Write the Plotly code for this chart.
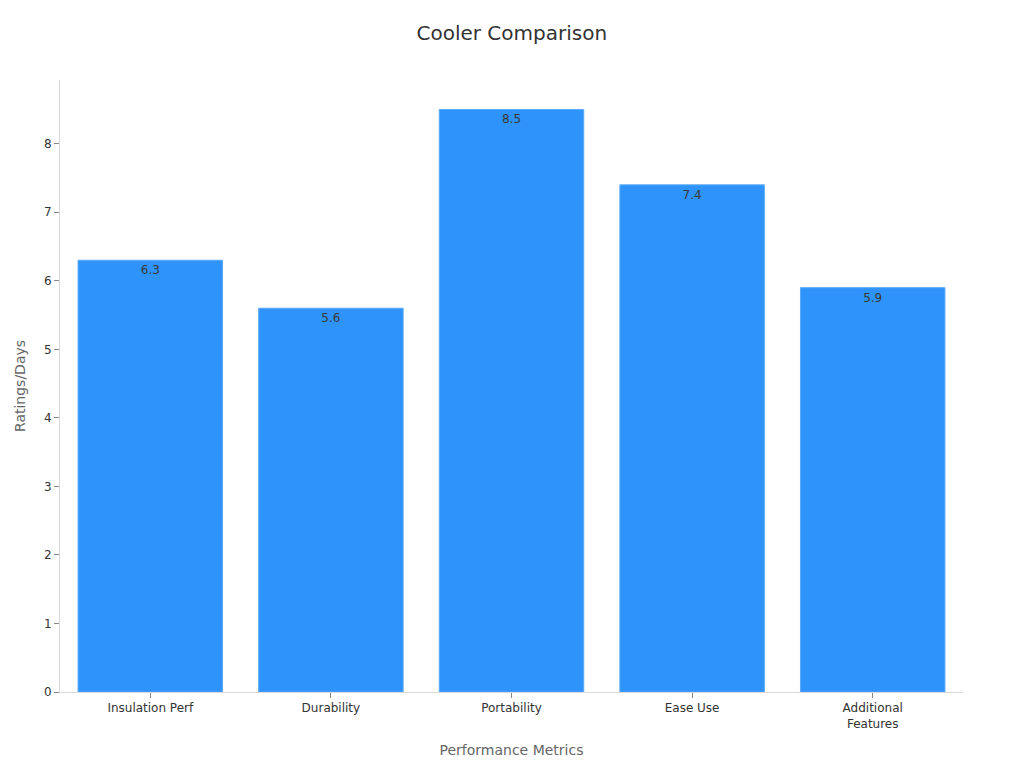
import plotly.graph_objects as go

categories = ["Insulation Perf", "Durability", "Portability", "Ease Use", "Additional<br>Features"]
values = [6.3, 5.6, 8.5, 7.4, 5.9]

fig = go.Figure()
fig.add_trace(go.Bar(
    x=categories,
    y=values,
    text=[f"{v:.1f}" for v in values],
    textposition="inside",
    insidetextanchor="end",
    textfont=dict(color="#3a3a3a", size=12),
    marker=dict(color="#2E93FA", line=dict(color="#5aa9f7", width=1)),
))

fig.update_layout(
    width=1024, height=768,
    font=dict(family="DejaVu Sans", color="#333333"),
    title=dict(text="Cooler Comparison", x=0.492, xanchor="center", y=0.976,
               font=dict(size=20, color="#333333")),
    plot_bgcolor="white", paper_bgcolor="white",
    margin=dict(l=52, r=69, t=72, b=84),
    bargap=0.2,
    showlegend=False,
)
fig.update_xaxes(
    title=dict(text="Performance Metrics", font=dict(size=14, color="#666666")),
    showline=True, linecolor="#d9d9d9", ticks="outside", tickcolor="#888888",
    ticklen=5, tickfont=dict(size=12, color="#333333"),
)
fig.update_yaxes(
    title=dict(text="Ratings/Days", font=dict(size=14, color="#666666")),
    range=[0, 8.93], dtick=1, showgrid=False, zeroline=False,
    showline=True, linecolor="#d9d9d9", ticks="outside", tickcolor="#888888",
    ticklen=5, tickfont=dict(size=12, color="#333333"),
)

fig.write_html("out.html")
